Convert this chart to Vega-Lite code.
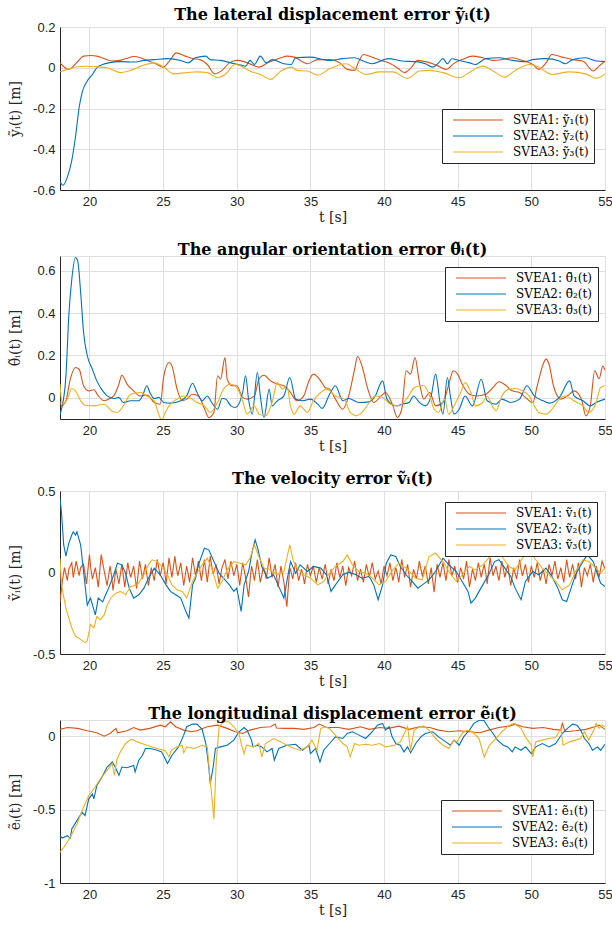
{
"$schema": "https://vega.github.io/schema/vega-lite/v6.json",
"padding": {"left": 7, "top": 6, "right": 0, "bottom": 0},
"background": "white",
"config": {
  "font": "Liberation Sans",
  "view": {"stroke": "#dedede"},
  "title": {"font": "DejaVu Serif", "fontSize": 16, "fontWeight": "bold", "color": "#000000", "offset": -2},
  "axis": {"labelFont": "Liberation Sans", "labelFontSize": 13, "labelColor": "#262626", "domainColor": "#262626", "gridColor": "#dfdfdf", "ticks": false, "titleFont": "DejaVu Serif", "titleFontSize": 14, "titleFontWeight": "normal", "titleColor": "#262626", "labelPadding": 5},
  "axisX": {"titlePadding": 2, "labelFlush": false},
  "axisY": {"titleX": -38},
  "legend": {"strokeColor": "#262626", "fillColor": "#ffffff", "padding": 5, "labelFont": "DejaVu Serif", "labelFontSize": 12, "labelColor": "#000000", "labelOffset": 54, "rowPadding": 4, "symbolStrokeWidth": 1.5, "symbolOpacity": 1},
  "concat": {"spacing": 16},
  "line": {"strokeWidth": 1.1}
},
"datasets": {
"p1": [
{"t":18,"s":1,"v":0.024},{"t":18.6,"s":1,"v":-0.008},{"t":19.2,"s":1,"v":0.03},{"t":19.6,"s":1,"v":0.057},{"t":20.1,"s":1,"v":0.06},{"t":20.5,"s":1,"v":0.057},{"t":21,"s":1,"v":0.045},{"t":21.5,"s":1,"v":0.033},{"t":22,"s":1,"v":0.035},{"t":22.5,"s":1,"v":0.045},{"t":23,"s":1,"v":0.055},{"t":23.5,"s":1,"v":0.048},{"t":24,"s":1,"v":0.033},{"t":24.5,"s":1,"v":0.02},{"t":25,"s":1,"v":0.003},{"t":25.4,"s":1,"v":0.03},{"t":25.9,"s":1,"v":0.073},{"t":26.5,"s":1,"v":0.057},{"t":27,"s":1,"v":0.045},{"t":27.5,"s":1,"v":0.04},{"t":28,"s":1,"v":0.016},{"t":28.5,"s":1,"v":-0.03},{"t":29,"s":1,"v":-0.013},{"t":29.5,"s":1,"v":0.024},{"t":30,"s":1,"v":0.036},{"t":30.5,"s":1,"v":0.03},{"t":31,"s":1,"v":0.016},{"t":31.5,"s":1,"v":0.003},{"t":32.1,"s":1,"v":0.024},{"t":33,"s":1,"v":0.049},{"t":33.4,"s":1,"v":0.057},{"t":33.9,"s":1,"v":0.052},{"t":34.8,"s":1,"v":0.02},{"t":35.5,"s":1,"v":0.04},{"t":36.3,"s":1,"v":0.04},{"t":37,"s":1,"v":0.024},{"t":37.5,"s":1,"v":-0.008},{"t":38,"s":1,"v":-0.013},{"t":38.3,"s":1,"v":0.033},{"t":38.6,"s":1,"v":0.065},{"t":39.2,"s":1,"v":0.052},{"t":39.8,"s":1,"v":0.036},{"t":40.3,"s":1,"v":0.024},{"t":40.9,"s":1,"v":0},{"t":41.4,"s":1,"v":-0.024},{"t":41.8,"s":1,"v":-0.003},{"t":42.3,"s":1,"v":0.036},{"t":42.8,"s":1,"v":0.03},{"t":43.3,"s":1,"v":0.02},{"t":43.7,"s":1,"v":0.008},{"t":44.2,"s":1,"v":-0.008},{"t":44.8,"s":1,"v":0.024},{"t":45.3,"s":1,"v":0.04},{"t":46,"s":1,"v":0.057},{"t":46.7,"s":1,"v":0.049},{"t":47.4,"s":1,"v":0.036},{"t":48,"s":1,"v":0.04},{"t":48.7,"s":1,"v":0.049},{"t":49.4,"s":1,"v":0.036},{"t":50.1,"s":1,"v":0.016},{"t":50.5,"s":1,"v":-0.008},{"t":51,"s":1,"v":0.024},{"t":51.4,"s":1,"v":0.065},{"t":52.1,"s":1,"v":0.052},{"t":52.8,"s":1,"v":0.04},{"t":53.5,"s":1,"v":0.033},{"t":54.2,"s":1,"v":-0.016},{"t":54.6,"s":1,"v":0.008},{"t":55,"s":1,"v":0.033},
{"t":18,"s":2,"v":-0.56},{"t":18.2,"s":2,"v":-0.577},{"t":18.5,"s":2,"v":-0.537},{"t":18.8,"s":2,"v":-0.455},{"t":19.05,"s":2,"v":-0.34},{"t":19.3,"s":2,"v":-0.195},{"t":19.5,"s":2,"v":-0.122},{"t":19.85,"s":2,"v":-0.065},{"t":20.2,"s":2,"v":-0.033},{"t":20.5,"s":2,"v":0},{"t":20.9,"s":2,"v":0.016},{"t":21.3,"s":2,"v":0.024},{"t":22.1,"s":2,"v":0.03},{"t":23,"s":2,"v":0.028},{"t":23.7,"s":2,"v":0.036},{"t":24.4,"s":2,"v":0.04},{"t":25.3,"s":2,"v":0.045},{"t":26.2,"s":2,"v":0.036},{"t":26.7,"s":2,"v":0.024},{"t":27.2,"s":2,"v":0.049},{"t":27.9,"s":2,"v":0.057},{"t":28.2,"s":2,"v":0.04},{"t":28.9,"s":2,"v":0.036},{"t":29.6,"s":2,"v":0.024},{"t":30.3,"s":2,"v":0.013},{"t":30.6,"s":2,"v":0.008},{"t":30.9,"s":2,"v":0.036},{"t":31.2,"s":2,"v":0.016},{"t":31.6,"s":2,"v":0.057},{"t":32,"s":2,"v":0.024},{"t":32.4,"s":2,"v":0.04},{"t":33.2,"s":2,"v":0.02},{"t":33.7,"s":2,"v":0.016},{"t":34,"s":2,"v":0.049},{"t":35,"s":2,"v":0.052},{"t":35.9,"s":2,"v":0.04},{"t":36.3,"s":2,"v":0.036},{"t":37.2,"s":2,"v":0.045},{"t":38,"s":2,"v":0.049},{"t":38.5,"s":2,"v":0.036},{"t":39.2,"s":2,"v":0.02},{"t":40,"s":2,"v":0.04},{"t":40.3,"s":2,"v":0.045},{"t":41.2,"s":2,"v":0.033},{"t":42.2,"s":2,"v":0.03},{"t":42.8,"s":2,"v":0.02},{"t":43.3,"s":2,"v":0.003},{"t":43.7,"s":2,"v":0.024},{"t":44,"s":2,"v":0.045},{"t":44.3,"s":2,"v":0.02},{"t":44.6,"s":2,"v":0.044},{"t":45.1,"s":2,"v":0.036},{"t":45.8,"s":2,"v":0.024},{"t":46.2,"s":2,"v":0.016},{"t":46.9,"s":2,"v":0.045},{"t":47.8,"s":2,"v":0.049},{"t":48.7,"s":2,"v":0.036},{"t":49.6,"s":2,"v":0.03},{"t":50.1,"s":2,"v":0.04},{"t":51,"s":2,"v":0.045},{"t":51.9,"s":2,"v":0.033},{"t":52.3,"s":2,"v":0.02},{"t":52.8,"s":2,"v":0.04},{"t":53.7,"s":2,"v":0.049},{"t":54.4,"s":2,"v":0.033},{"t":55,"s":2,"v":0.03},
{"t":18,"s":3,"v":-0.02},{"t":18.5,"s":3,"v":-0.008},{"t":19.2,"s":3,"v":0.005},{"t":19.8,"s":3,"v":0.007},{"t":20.5,"s":3,"v":0.005},{"t":21.2,"s":3,"v":0},{"t":22.1,"s":3,"v":-0.024},{"t":22.8,"s":3,"v":-0.013},{"t":23.5,"s":3,"v":0.008},{"t":24.4,"s":3,"v":0.024},{"t":25.1,"s":3,"v":0},{"t":25.7,"s":3,"v":-0.03},{"t":26.6,"s":3,"v":-0.024},{"t":27.3,"s":3,"v":-0.02},{"t":28,"s":3,"v":-0.024},{"t":28.7,"s":3,"v":-0.049},{"t":29.2,"s":3,"v":-0.033},{"t":29.9,"s":3,"v":0.016},{"t":30.3,"s":3,"v":0.008},{"t":30.9,"s":3,"v":-0.016},{"t":31.6,"s":3,"v":-0.033},{"t":32.3,"s":3,"v":-0.057},{"t":33,"s":3,"v":-0.016},{"t":33.7,"s":3,"v":0.003},{"t":34.1,"s":3,"v":-0.013},{"t":34.8,"s":3,"v":-0.016},{"t":35.5,"s":3,"v":-0.036},{"t":36.3,"s":3,"v":-0.005},{"t":37.4,"s":3,"v":0.02},{"t":38.1,"s":3,"v":-0.008},{"t":38.8,"s":3,"v":-0.033},{"t":39.7,"s":3,"v":-0.02},{"t":40.6,"s":3,"v":-0.02},{"t":41.6,"s":3,"v":-0.052},{"t":42.4,"s":3,"v":-0.016},{"t":43.1,"s":3,"v":-0.013},{"t":44,"s":3,"v":-0.024},{"t":45.1,"s":3,"v":-0.049},{"t":46,"s":3,"v":-0.013},{"t":46.7,"s":3,"v":0.008},{"t":47.4,"s":3,"v":-0.016},{"t":48.2,"s":3,"v":-0.046},{"t":48.9,"s":3,"v":-0.013},{"t":49.9,"s":3,"v":0.016},{"t":50.5,"s":3,"v":0.003},{"t":51.4,"s":3,"v":-0.033},{"t":52.6,"s":3,"v":-0.02},{"t":53.7,"s":3,"v":-0.03},{"t":54.4,"s":3,"v":-0.052},{"t":55,"s":3,"v":-0.03}
],
"p2": [
{"t":18,"s":1,"v":-0.014},{"t":18.1,"s":1,"v":-0.038},{"t":18.4,"s":1,"v":-0.014},{"t":18.7,"s":1,"v":0.088},{"t":19.05,"s":1,"v":0.143},{"t":19.3,"s":1,"v":0.135},{"t":19.6,"s":1,"v":0.057},{"t":19.95,"s":1,"v":0.033},{"t":20.3,"s":1,"v":0.038},{"t":20.6,"s":1,"v":0.009},{"t":21,"s":1,"v":-0.014},{"t":21.3,"s":1,"v":-0.006},{"t":21.65,"s":1,"v":0.009},{"t":22,"s":1,"v":0.065},{"t":22.2,"s":1,"v":0.107},{"t":22.55,"s":1,"v":0.065},{"t":23,"s":1,"v":0.033},{"t":23.45,"s":1,"v":0.009},{"t":23.9,"s":1,"v":0.013},{"t":24.4,"s":1,"v":-0.022},{"t":24.8,"s":1,"v":-0.03},{"t":25.05,"s":1,"v":0.104},{"t":25.4,"s":1,"v":0.167},{"t":25.6,"s":1,"v":0.151},{"t":25.95,"s":1,"v":0.041},{"t":26.3,"s":1,"v":-0.014},{"t":26.6,"s":1,"v":-0.006},{"t":27,"s":1,"v":0.017},{"t":27.4,"s":1,"v":0.009},{"t":27.8,"s":1,"v":-0.05},{"t":28.1,"s":1,"v":-0.093},{"t":28.45,"s":1,"v":-0.069},{"t":28.7,"s":1,"v":0.104},{"t":28.9,"s":1,"v":0.088},{"t":29.2,"s":1,"v":0.19},{"t":29.35,"s":1,"v":0.088},{"t":29.7,"s":1,"v":0.057},{"t":30,"s":1,"v":0.057},{"t":30.4,"s":1,"v":0.002},{"t":30.7,"s":1,"v":-0.006},{"t":31.2,"s":1,"v":0.009},{"t":31.5,"s":1,"v":0.088},{"t":31.85,"s":1,"v":0.107},{"t":32.3,"s":1,"v":0.08},{"t":32.75,"s":1,"v":0.065},{"t":33.2,"s":1,"v":0.057},{"t":33.65,"s":1,"v":0.025},{"t":34.1,"s":1,"v":-0.014},{"t":34.55,"s":1,"v":0.009},{"t":34.9,"s":1,"v":0.08},{"t":35.2,"s":1,"v":0.112},{"t":35.7,"s":1,"v":0.08},{"t":36,"s":1,"v":0.049},{"t":36.3,"s":1,"v":0.041},{"t":36.7,"s":1,"v":-0.006},{"t":37.2,"s":1,"v":-0.054},{"t":37.6,"s":1,"v":0.009},{"t":38,"s":1,"v":0.135},{"t":38.2,"s":1,"v":0.195},{"t":38.5,"s":1,"v":0.151},{"t":38.9,"s":1,"v":0.041},{"t":39.3,"s":1,"v":-0.022},{"t":39.8,"s":1,"v":0.009},{"t":40.1,"s":1,"v":0.025},{"t":40.6,"s":1,"v":-0.038},{"t":40.9,"s":1,"v":-0.093},{"t":41.2,"s":1,"v":-0.054},{"t":41.5,"s":1,"v":0.128},{"t":41.8,"s":1,"v":0.112},{"t":42.1,"s":1,"v":0.19},{"t":42.4,"s":1,"v":0.072},{"t":42.7,"s":1,"v":-0.006},{"t":43.1,"s":1,"v":0.025},{"t":43.5,"s":1,"v":-0.038},{"t":44,"s":1,"v":-0.022},{"t":44.4,"s":1,"v":0.065},{"t":44.7,"s":1,"v":0.128},{"t":45,"s":1,"v":0.112},{"t":45.3,"s":1,"v":0.065},{"t":45.8,"s":1,"v":0.017},{"t":46.3,"s":1,"v":0.009},{"t":46.9,"s":1,"v":0.017},{"t":47.4,"s":1,"v":0.049},{"t":47.8,"s":1,"v":0.076},{"t":48.3,"s":1,"v":0.057},{"t":48.7,"s":1,"v":0.033},{"t":49.2,"s":1,"v":0.025},{"t":49.6,"s":1,"v":0.002},{"t":50.1,"s":1,"v":-0.022},{"t":50.4,"s":1,"v":0.057},{"t":50.8,"s":1,"v":0.159},{"t":51,"s":1,"v":0.183},{"t":51.2,"s":1,"v":0.159},{"t":51.5,"s":1,"v":0.057},{"t":52,"s":1,"v":-0.006},{"t":52.45,"s":1,"v":0.009},{"t":52.9,"s":1,"v":0.033},{"t":53.4,"s":1,"v":-0.006},{"t":53.7,"s":1,"v":-0.085},{"t":54,"s":1,"v":-0.038},{"t":54.3,"s":1,"v":0.128},{"t":54.6,"s":1,"v":0.09},{"t":54.85,"s":1,"v":0.15},{"t":55,"s":1,"v":0.13},
{"t":18,"s":2,"v":-0.077},{"t":18.1,"s":2,"v":-0.054},{"t":18.4,"s":2,"v":0.1},{"t":18.6,"s":2,"v":0.39},{"t":18.8,"s":2,"v":0.56},{"t":19.05,"s":2,"v":0.663},{"t":19.2,"s":2,"v":0.647},{"t":19.4,"s":2,"v":0.5},{"t":19.6,"s":2,"v":0.31},{"t":19.85,"s":2,"v":0.2},{"t":20.2,"s":2,"v":0.135},{"t":20.5,"s":2,"v":0.08},{"t":20.9,"s":2,"v":0.033},{"t":21.2,"s":2,"v":0.009},{"t":21.65,"s":2,"v":-0.003},{"t":22,"s":2,"v":0.002},{"t":22.3,"s":2,"v":-0.022},{"t":22.8,"s":2,"v":-0.014},{"t":23.35,"s":2,"v":-0.014},{"t":23.6,"s":2,"v":0.009},{"t":23.9,"s":2,"v":0.057},{"t":24.1,"s":2,"v":0.025},{"t":24.4,"s":2,"v":-0.003},{"t":24.7,"s":2,"v":0.002},{"t":25.05,"s":2,"v":-0.022},{"t":25.5,"s":2,"v":-0.025},{"t":26.2,"s":2,"v":-0.014},{"t":26.6,"s":2,"v":0.009},{"t":27,"s":2,"v":0.069},{"t":27.3,"s":2,"v":0.025},{"t":27.65,"s":2,"v":-0.014},{"t":28,"s":2,"v":0.009},{"t":28.3,"s":2,"v":-0.022},{"t":28.7,"s":2,"v":-0.054},{"t":29,"s":2,"v":-0.003},{"t":29.25,"s":2,"v":-0.006},{"t":29.6,"s":2,"v":-0.038},{"t":29.9,"s":2,"v":-0.046},{"t":30.4,"s":2,"v":0.025},{"t":30.6,"s":2,"v":0.104},{"t":30.8,"s":2,"v":-0.006},{"t":31.05,"s":2,"v":-0.077},{"t":31.4,"s":2,"v":0.12},{"t":31.6,"s":2,"v":0.009},{"t":31.85,"s":2,"v":-0.093},{"t":32.2,"s":2,"v":0.041},{"t":32.4,"s":2,"v":-0.038},{"t":32.75,"s":2,"v":-0.014},{"t":33.2,"s":2,"v":0.009},{"t":33.6,"s":2,"v":0.096},{"t":34,"s":2,"v":-0.006},{"t":34.45,"s":2,"v":-0.014},{"t":35,"s":2,"v":-0.006},{"t":35.5,"s":2,"v":-0.03},{"t":35.8,"s":2,"v":-0.05},{"t":36.3,"s":2,"v":0.017},{"t":36.7,"s":2,"v":0.057},{"t":37.2,"s":2,"v":-0.014},{"t":37.6,"s":2,"v":-0.003},{"t":38.3,"s":2,"v":-0.022},{"t":39,"s":2,"v":-0.019},{"t":39.4,"s":2,"v":0.009},{"t":39.9,"s":2,"v":0.08},{"t":40.2,"s":2,"v":-0.006},{"t":40.8,"s":2,"v":-0.038},{"t":41.2,"s":2,"v":-0.03},{"t":41.7,"s":2,"v":-0.022},{"t":42,"s":2,"v":0.009},{"t":42.4,"s":2,"v":-0.022},{"t":42.8,"s":2,"v":-0.038},{"t":43.2,"s":2,"v":0.009},{"t":43.5,"s":2,"v":0.112},{"t":43.8,"s":2,"v":-0.022},{"t":44,"s":2,"v":-0.077},{"t":44.3,"s":2,"v":0.096},{"t":44.5,"s":2,"v":0.009},{"t":44.75,"s":2,"v":-0.077},{"t":45.1,"s":2,"v":-0.054},{"t":45.5,"s":2,"v":0.009},{"t":46,"s":2,"v":-0.038},{"t":46.6,"s":2,"v":0.088},{"t":47,"s":2,"v":-0.014},{"t":47.6,"s":2,"v":-0.03},{"t":48,"s":2,"v":-0.006},{"t":48.6,"s":2,"v":-0.022},{"t":49.2,"s":2,"v":-0.006},{"t":49.7,"s":2,"v":0.057},{"t":50.2,"s":2,"v":0.009},{"t":50.8,"s":2,"v":-0.014},{"t":51.2,"s":2,"v":-0.025},{"t":51.9,"s":2,"v":0.002},{"t":52.6,"s":2,"v":0.08},{"t":52.9,"s":2,"v":0.009},{"t":53.5,"s":2,"v":-0.014},{"t":54,"s":2,"v":-0.038},{"t":54.4,"s":2,"v":-0.022},{"t":55,"s":2,"v":-0.006},
{"t":18,"s":3,"v":0.065},{"t":18.15,"s":3,"v":-0.03},{"t":18.5,"s":3,"v":-0.006},{"t":18.8,"s":3,"v":0.044},{"t":19.05,"s":3,"v":0.033},{"t":19.4,"s":3,"v":-0.014},{"t":19.7,"s":3,"v":-0.035},{"t":20.3,"s":3,"v":-0.038},{"t":21,"s":3,"v":-0.03},{"t":21.5,"s":3,"v":-0.061},{"t":21.9,"s":3,"v":-0.069},{"t":22.3,"s":3,"v":-0.038},{"t":22.8,"s":3,"v":0.017},{"t":23.45,"s":3,"v":0.025},{"t":23.9,"s":3,"v":0.009},{"t":24.4,"s":3,"v":-0.014},{"t":24.7,"s":3,"v":-0.077},{"t":24.9,"s":3,"v":-0.104},{"t":25.15,"s":3,"v":-0.069},{"t":25.5,"s":3,"v":-0.03},{"t":25.95,"s":3,"v":-0.006},{"t":26.4,"s":3,"v":0.009},{"t":26.9,"s":3,"v":-0.003},{"t":27.3,"s":3,"v":-0.022},{"t":27.8,"s":3,"v":-0.038},{"t":28.2,"s":3,"v":-0.069},{"t":28.7,"s":3,"v":-0.022},{"t":29.1,"s":3,"v":0.041},{"t":29.6,"s":3,"v":0.065},{"t":30,"s":3,"v":0.049},{"t":30.4,"s":3,"v":-0.014},{"t":30.7,"s":3,"v":-0.077},{"t":31.2,"s":3,"v":-0.038},{"t":31.5,"s":3,"v":-0.077},{"t":31.95,"s":3,"v":-0.085},{"t":32.4,"s":3,"v":-0.022},{"t":32.75,"s":3,"v":0.072},{"t":33.1,"s":3,"v":0.041},{"t":33.4,"s":3,"v":0.057},{"t":33.65,"s":3,"v":-0.038},{"t":33.9,"s":3,"v":-0.077},{"t":34.3,"s":3,"v":-0.038},{"t":34.8,"s":3,"v":-0.069},{"t":35.2,"s":3,"v":-0.014},{"t":35.7,"s":3,"v":0.025},{"t":36.1,"s":3,"v":0.041},{"t":36.7,"s":3,"v":0.009},{"t":37.3,"s":3,"v":-0.006},{"t":37.7,"s":3,"v":-0.069},{"t":38.1,"s":3,"v":-0.085},{"t":38.5,"s":3,"v":-0.069},{"t":39,"s":3,"v":-0.022},{"t":39.4,"s":3,"v":0.009},{"t":39.9,"s":3,"v":0.002},{"t":40.45,"s":3,"v":-0.03},{"t":41,"s":3,"v":-0.038},{"t":41.6,"s":3,"v":0.002},{"t":42,"s":3,"v":0.044},{"t":42.4,"s":3,"v":0.057},{"t":42.7,"s":3,"v":0.057},{"t":43.1,"s":3,"v":0.009},{"t":43.4,"s":3,"v":-0.054},{"t":43.7,"s":3,"v":-0.069},{"t":44.1,"s":3,"v":-0.006},{"t":44.4,"s":3,"v":-0.077},{"t":44.75,"s":3,"v":-0.038},{"t":45.2,"s":3,"v":0.025},{"t":45.5,"s":3,"v":0.072},{"t":45.9,"s":3,"v":0.025},{"t":46.2,"s":3,"v":-0.038},{"t":46.7,"s":3,"v":-0.022},{"t":47,"s":3,"v":0.009},{"t":47.4,"s":3,"v":-0.046},{"t":47.6,"s":3,"v":-0.061},{"t":48,"s":3,"v":0.009},{"t":48.5,"s":3,"v":0.041},{"t":48.9,"s":3,"v":0.044},{"t":49.4,"s":3,"v":0.033},{"t":49.85,"s":3,"v":0.009},{"t":50.2,"s":3,"v":-0.038},{"t":50.5,"s":3,"v":-0.069},{"t":51,"s":3,"v":-0.077},{"t":51.4,"s":3,"v":-0.054},{"t":51.9,"s":3,"v":-0.006},{"t":52.3,"s":3,"v":0.009},{"t":52.9,"s":3,"v":-0.014},{"t":53.5,"s":3,"v":-0.038},{"t":53.9,"s":3,"v":-0.069},{"t":54.4,"s":3,"v":-0.022},{"t":54.7,"s":3,"v":0.049},{"t":55,"s":3,"v":0.057}
],
"p3": [
{"t":18,"s":1,"v":-0.18},{"t":18.15,"s":1,"v":-0.06},{"t":18.3,"s":1,"v":0.03},{"t":18.5,"s":1,"v":-0.05},{"t":18.6,"s":1,"v":0.02},{"t":18.8,"s":1,"v":0.06},{"t":18.9,"s":1,"v":-0.03},{"t":19.1,"s":1,"v":0.07},{"t":19.3,"s":1,"v":-0.02},{"t":19.4,"s":1,"v":0.03},{"t":19.6,"s":1,"v":0.05},{"t":19.8,"s":1,"v":-0.07},{"t":20,"s":1,"v":0.11},{"t":20.1,"s":1,"v":0.02},{"t":20.2,"s":1,"v":-0.04},{"t":20.4,"s":1,"v":0.03},{"t":20.6,"s":1,"v":-0.09},{"t":20.8,"s":1,"v":0.11},{"t":20.9,"s":1,"v":0.06},{"t":21,"s":1,"v":0.01},{"t":21.2,"s":1,"v":-0.08},{"t":21.4,"s":1,"v":0.04},{"t":21.5,"s":1,"v":-0.02},{"t":21.6,"s":1,"v":-0.11},{"t":21.8,"s":1,"v":0.02},{"t":22,"s":1,"v":-0.07},{"t":22.1,"s":1,"v":-0.01},{"t":22.2,"s":1,"v":0.05},{"t":22.4,"s":1,"v":-0.09},{"t":22.6,"s":1,"v":0.06},{"t":22.7,"s":1,"v":0.01},{"t":22.8,"s":1,"v":-0.03},{"t":23,"s":1,"v":0.04},{"t":23.2,"s":1,"v":-0.1},{"t":23.4,"s":1,"v":0.07},{"t":23.5,"s":1,"v":0.02},{"t":23.6,"s":1,"v":-0.04},{"t":23.8,"s":1,"v":0.05},{"t":24,"s":1,"v":-0.08},{"t":24.2,"s":1,"v":0.03},{"t":24.3,"s":1,"v":-0.01},{"t":24.4,"s":1,"v":-0.05},{"t":24.6,"s":1,"v":0.08},{"t":24.8,"s":1,"v":-0.02},{"t":25,"s":1,"v":0.06},{"t":25.1,"s":1,"v":0.01},{"t":25.2,"s":1,"v":-0.07},{"t":25.4,"s":1,"v":0.09},{"t":25.6,"s":1,"v":-0.03},{"t":25.8,"s":1,"v":0.1},{"t":25.9,"s":1,"v":0.03},{"t":26,"s":1,"v":-0.02},{"t":26.2,"s":1,"v":0.06},{"t":26.4,"s":1,"v":-0.08},{"t":26.6,"s":1,"v":0.04},{"t":26.7,"s":1,"v":-0.01},{"t":26.8,"s":1,"v":-0.06},{"t":27,"s":1,"v":0.09},{"t":27.2,"s":1,"v":-0.02},{"t":27.4,"s":1,"v":0.07},{"t":27.5,"s":1,"v":0.01},{"t":27.6,"s":1,"v":-0.05},{"t":27.8,"s":1,"v":0.08},{"t":28,"s":1,"v":-0.06},{"t":28.2,"s":1,"v":0.1},{"t":28.3,"s":1,"v":0.04},{"t":28.4,"s":1,"v":-0.01},{"t":28.6,"s":1,"v":0.05},{"t":28.8,"s":1,"v":-0.07},{"t":29,"s":1,"v":0.03},{"t":29.2,"s":1,"v":0.08},{"t":29.3,"s":1,"v":0.02},{"t":29.4,"s":1,"v":-0.04},{"t":29.6,"s":1,"v":0.07},{"t":29.8,"s":1,"v":-0.02},{"t":30,"s":1,"v":0.05},{"t":30.1,"s":1,"v":-0.01},{"t":30.2,"s":1,"v":-0.08},{"t":30.4,"s":1,"v":0.06},{"t":30.6,"s":1,"v":-0.03},{"t":30.8,"s":1,"v":-0.15},{"t":31,"s":1,"v":0.04},{"t":31.1,"s":1,"v":0},{"t":31.2,"s":1,"v":-0.05},{"t":31.4,"s":1,"v":0.08},{"t":31.6,"s":1,"v":-0.06},{"t":31.8,"s":1,"v":0.03},{"t":31.9,"s":1,"v":0.01},{"t":32,"s":1,"v":-0.04},{"t":32.2,"s":1,"v":0.09},{"t":32.4,"s":1,"v":-0.03},{"t":32.6,"s":1,"v":0.05},{"t":32.7,"s":1,"v":-0.02},{"t":32.8,"s":1,"v":-0.09},{"t":33,"s":1,"v":0.04},{"t":33.2,"s":1,"v":-0.06},{"t":33.4,"s":1,"v":-0.21},{"t":33.6,"s":1,"v":0.03},{"t":33.7,"s":1,"v":0},{"t":33.8,"s":1,"v":-0.04},{"t":34,"s":1,"v":0.06},{"t":34.2,"s":1,"v":-0.05},{"t":34.4,"s":1,"v":0.02},{"t":34.5,"s":1,"v":-0.02},{"t":34.6,"s":1,"v":-0.07},{"t":34.8,"s":1,"v":0.05},{"t":35,"s":1,"v":-0.02},{"t":35.2,"s":1,"v":0.04},{"t":35.3,"s":1,"v":-0.01},{"t":35.4,"s":1,"v":-0.06},{"t":35.6,"s":1,"v":0.03},{"t":35.8,"s":1,"v":-0.04},{"t":36,"s":1,"v":0.05},{"t":36.1,"s":1,"v":0},{"t":36.2,"s":1,"v":-0.07},{"t":36.4,"s":1,"v":0.02},{"t":36.6,"s":1,"v":-0.05},{"t":36.8,"s":1,"v":0.06},{"t":36.9,"s":1,"v":0.01},{"t":37,"s":1,"v":-0.03},{"t":37.2,"s":1,"v":0.04},{"t":37.4,"s":1,"v":-0.08},{"t":37.6,"s":1,"v":0.03},{"t":37.8,"s":1,"v":-0.02},{"t":38,"s":1,"v":0.07},{"t":38.1,"s":1,"v":0.01},{"t":38.2,"s":1,"v":-0.05},{"t":38.4,"s":1,"v":0.02},{"t":38.6,"s":1,"v":-0.06},{"t":38.8,"s":1,"v":0.05},{"t":38.9,"s":1,"v":0.01},{"t":39,"s":1,"v":-0.03},{"t":39.2,"s":1,"v":0.06},{"t":39.4,"s":1,"v":-0.04},{"t":39.6,"s":1,"v":0.01},{"t":39.8,"s":1,"v":-0.07},{"t":40,"s":1,"v":0.04},{"t":40.1,"s":1,"v":0.01},{"t":40.2,"s":1,"v":-0.02},{"t":40.4,"s":1,"v":0.06},{"t":40.6,"s":1,"v":-0.05},{"t":40.8,"s":1,"v":0.03},{"t":40.9,"s":1,"v":-0.01},{"t":41,"s":1,"v":-0.06},{"t":41.2,"s":1,"v":0.08},{"t":41.4,"s":1,"v":-0.03},{"t":41.6,"s":1,"v":0.05},{"t":41.7,"s":1,"v":-0.02},{"t":41.8,"s":1,"v":-0.09},{"t":42,"s":1,"v":0.02},{"t":42.2,"s":1,"v":-0.04},{"t":42.4,"s":1,"v":0.07},{"t":42.5,"s":1,"v":0.02},{"t":42.6,"s":1,"v":-0.02},{"t":42.8,"s":1,"v":0.04},{"t":43,"s":1,"v":-0.07},{"t":43.2,"s":1,"v":0.03},{"t":43.4,"s":1,"v":-0.12},{"t":43.6,"s":1,"v":0.05},{"t":43.7,"s":1,"v":0.01},{"t":43.8,"s":1,"v":-0.03},{"t":44,"s":1,"v":0.06},{"t":44.2,"s":1,"v":-0.05},{"t":44.4,"s":1,"v":0.08},{"t":44.5,"s":1,"v":0.03},{"t":44.6,"s":1,"v":-0.02},{"t":44.8,"s":1,"v":0.04},{"t":45,"s":1,"v":-0.06},{"t":45.2,"s":1,"v":0.03},{"t":45.3,"s":1,"v":0},{"t":45.4,"s":1,"v":-0.04},{"t":45.6,"s":1,"v":0.07},{"t":45.8,"s":1,"v":-0.09},{"t":46,"s":1,"v":0.02},{"t":46.1,"s":1,"v":-0.01},{"t":46.2,"s":1,"v":-0.05},{"t":46.4,"s":1,"v":0.06},{"t":46.6,"s":1,"v":-0.03},{"t":46.8,"s":1,"v":0.05},{"t":46.9,"s":1,"v":0},{"t":47,"s":1,"v":-0.07},{"t":47.2,"s":1,"v":0.09},{"t":47.4,"s":1,"v":-0.02},{"t":47.6,"s":1,"v":0.04},{"t":47.7,"s":1,"v":-0.01},{"t":47.8,"s":1,"v":-0.05},{"t":48,"s":1,"v":0.07},{"t":48.2,"s":1,"v":-0.03},{"t":48.4,"s":1,"v":0.05},{"t":48.5,"s":1,"v":-0.02},{"t":48.6,"s":1,"v":-0.08},{"t":48.8,"s":1,"v":0.03},{"t":49,"s":1,"v":-0.04},{"t":49.2,"s":1,"v":0.08},{"t":49.3,"s":1,"v":0.02},{"t":49.4,"s":1,"v":-0.02},{"t":49.6,"s":1,"v":0.05},{"t":49.8,"s":1,"v":-0.06},{"t":50,"s":1,"v":0.04},{"t":50.1,"s":1,"v":0},{"t":50.2,"s":1,"v":-0.03},{"t":50.4,"s":1,"v":0.06},{"t":50.6,"s":1,"v":-0.05},{"t":50.8,"s":1,"v":0.02},{"t":50.9,"s":1,"v":-0.02},{"t":51,"s":1,"v":-0.07},{"t":51.2,"s":1,"v":0.05},{"t":51.4,"s":1,"v":-0.02},{"t":51.6,"s":1,"v":0.07},{"t":51.7,"s":1,"v":0.01},{"t":51.8,"s":1,"v":-0.04},{"t":52,"s":1,"v":0.03},{"t":52.2,"s":1,"v":-0.06},{"t":52.4,"s":1,"v":0.08},{"t":52.5,"s":1,"v":0.02},{"t":52.6,"s":1,"v":-0.03},{"t":52.8,"s":1,"v":0.05},{"t":53,"s":1,"v":-0.04},{"t":53.2,"s":1,"v":0.06},{"t":53.3,"s":1,"v":-0.01},{"t":53.4,"s":1,"v":-0.09},{"t":53.6,"s":1,"v":0.03},{"t":53.8,"s":1,"v":-0.02},{"t":54,"s":1,"v":0.05},{"t":54.1,"s":1,"v":0},{"t":54.2,"s":1,"v":-0.06},{"t":54.4,"s":1,"v":0.04},{"t":54.6,"s":1,"v":-0.03},{"t":54.8,"s":1,"v":0.07},{"t":55,"s":1,"v":0.02},
{"t":18,"s":2,"v":0.455},{"t":18.1,"s":2,"v":0.37},{"t":18.25,"s":2,"v":0.17},{"t":18.4,"s":2,"v":0.1},{"t":18.6,"s":2,"v":0.18},{"t":18.8,"s":2,"v":0.23},{"t":18.9,"s":2,"v":0.25},{"t":19.05,"s":2,"v":0.23},{"t":19.15,"s":2,"v":0.25},{"t":19.4,"s":2,"v":0.17},{"t":19.6,"s":2,"v":0.006},{"t":19.85,"s":2,"v":-0.2},{"t":20.07,"s":2,"v":-0.157},{"t":20.4,"s":2,"v":-0.26},{"t":20.6,"s":2,"v":-0.157},{"t":20.9,"s":2,"v":-0.18},{"t":21.1,"s":2,"v":-0.137},{"t":21.3,"s":2,"v":-0.096},{"t":21.65,"s":2,"v":-0.014},{"t":21.9,"s":2,"v":0.057},{"t":22.2,"s":2,"v":0.047},{"t":22.45,"s":2,"v":-0.004},{"t":22.7,"s":2,"v":-0.096},{"t":23,"s":2,"v":-0.157},{"t":23.35,"s":2,"v":-0.137},{"t":23.7,"s":2,"v":-0.096},{"t":24,"s":2,"v":-0.035},{"t":24.4,"s":2,"v":0.027},{"t":24.8,"s":2,"v":-0.014},{"t":25.2,"s":2,"v":-0.076},{"t":25.5,"s":2,"v":-0.116},{"t":25.85,"s":2,"v":-0.137},{"t":26.2,"s":2,"v":-0.157},{"t":26.5,"s":2,"v":-0.229},{"t":26.75,"s":2,"v":-0.28},{"t":27,"s":2,"v":-0.076},{"t":27.2,"s":2,"v":-0.035},{"t":27.4,"s":2,"v":0.047},{"t":27.8,"s":2,"v":0.149},{"t":28.1,"s":2,"v":0.139},{"t":28.45,"s":2,"v":0.067},{"t":28.8,"s":2,"v":-0.004},{"t":29.1,"s":2,"v":-0.035},{"t":29.5,"s":2,"v":-0.076},{"t":29.8,"s":2,"v":-0.116},{"t":30,"s":2,"v":-0.096},{"t":30.3,"s":2,"v":-0.239},{"t":30.5,"s":2,"v":-0.076},{"t":30.8,"s":2,"v":0.006},{"t":31.05,"s":2,"v":0.129},{"t":31.25,"s":2,"v":0.2},{"t":31.45,"s":2,"v":0.139},{"t":31.7,"s":2,"v":0.037},{"t":32.1,"s":2,"v":-0.035},{"t":32.5,"s":2,"v":-0.014},{"t":32.9,"s":2,"v":-0.096},{"t":33.2,"s":2,"v":-0.157},{"t":33.4,"s":2,"v":-0.055},{"t":33.65,"s":2,"v":0.067},{"t":34,"s":2,"v":-0.004},{"t":34.3,"s":2,"v":0.047},{"t":34.8,"s":2,"v":0.006},{"t":35.2,"s":2,"v":0.037},{"t":35.7,"s":2,"v":0.027},{"t":36.1,"s":2,"v":-0.014},{"t":36.4,"s":2,"v":-0.116},{"t":36.7,"s":2,"v":-0.076},{"t":37.2,"s":2,"v":-0.014},{"t":37.6,"s":2,"v":0.002},{"t":38.1,"s":2,"v":-0.014},{"t":38.5,"s":2,"v":-0.035},{"t":39,"s":2,"v":-0.024},{"t":39.3,"s":2,"v":-0.076},{"t":39.6,"s":2,"v":-0.167},{"t":39.9,"s":2,"v":-0.076},{"t":40.15,"s":2,"v":0.057},{"t":40.45,"s":2,"v":0.108},{"t":40.8,"s":2,"v":0.098},{"t":41.1,"s":2,"v":0.037},{"t":41.5,"s":2,"v":-0.014},{"t":41.9,"s":2,"v":-0.055},{"t":42.3,"s":2,"v":-0.096},{"t":42.6,"s":2,"v":-0.076},{"t":43.05,"s":2,"v":-0.045},{"t":43.5,"s":2,"v":0.006},{"t":44,"s":2,"v":0.088},{"t":44.4,"s":2,"v":0.047},{"t":44.9,"s":2,"v":0.006},{"t":45.3,"s":2,"v":-0.055},{"t":45.7,"s":2,"v":-0.116},{"t":45.9,"s":2,"v":-0.188},{"t":46.2,"s":2,"v":-0.157},{"t":46.7,"s":2,"v":-0.076},{"t":47.1,"s":2,"v":-0.014},{"t":47.5,"s":2,"v":0.067},{"t":47.8,"s":2,"v":0.078},{"t":48.2,"s":2,"v":0.027},{"t":48.6,"s":2,"v":-0.024},{"t":48.9,"s":2,"v":-0.096},{"t":49.3,"s":2,"v":-0.167},{"t":49.6,"s":2,"v":-0.055},{"t":50.1,"s":2,"v":0.006},{"t":50.5,"s":2,"v":-0.014},{"t":51,"s":2,"v":0.027},{"t":51.4,"s":2,"v":-0.024},{"t":51.8,"s":2,"v":-0.096},{"t":52.1,"s":2,"v":-0.167},{"t":52.4,"s":2,"v":-0.178},{"t":52.7,"s":2,"v":-0.096},{"t":53,"s":2,"v":-0.014},{"t":53.5,"s":2,"v":0.067},{"t":53.8,"s":2,"v":0.108},{"t":54.2,"s":2,"v":0.067},{"t":54.5,"s":2,"v":-0.014},{"t":54.7,"s":2,"v":-0.065},{"t":55,"s":2,"v":-0.086},
{"t":18,"s":3,"v":0.088},{"t":18.1,"s":3,"v":-0.076},{"t":18.4,"s":3,"v":-0.218},{"t":18.6,"s":3,"v":-0.28},{"t":18.8,"s":3,"v":-0.34},{"t":19.05,"s":3,"v":-0.39},{"t":19.4,"s":3,"v":-0.41},{"t":19.7,"s":3,"v":-0.43},{"t":19.85,"s":3,"v":-0.42},{"t":20.07,"s":3,"v":-0.32},{"t":20.3,"s":3,"v":-0.34},{"t":20.5,"s":3,"v":-0.27},{"t":20.75,"s":3,"v":-0.29},{"t":21,"s":3,"v":-0.26},{"t":21.2,"s":3,"v":-0.2},{"t":21.45,"s":3,"v":-0.157},{"t":21.8,"s":3,"v":-0.127},{"t":22.1,"s":3,"v":-0.116},{"t":22.45,"s":3,"v":-0.137},{"t":22.8,"s":3,"v":-0.086},{"t":23.25,"s":3,"v":-0.076},{"t":23.7,"s":3,"v":-0.014},{"t":24,"s":3,"v":0.047},{"t":24.25,"s":3,"v":0.078},{"t":24.6,"s":3,"v":0.067},{"t":24.9,"s":3,"v":0.037},{"t":25.3,"s":3,"v":-0.014},{"t":25.6,"s":3,"v":-0.076},{"t":25.95,"s":3,"v":-0.106},{"t":26.3,"s":3,"v":-0.116},{"t":26.6,"s":3,"v":-0.157},{"t":27,"s":3,"v":-0.055},{"t":27.3,"s":3,"v":-0.004},{"t":27.65,"s":3,"v":0.047},{"t":28,"s":3,"v":0.088},{"t":28.3,"s":3,"v":0.027},{"t":28.7,"s":3,"v":-0.096},{"t":29,"s":3,"v":-0.055},{"t":29.35,"s":3,"v":0.016},{"t":29.8,"s":3,"v":0.067},{"t":30.25,"s":3,"v":0.057},{"t":30.6,"s":3,"v":0.047},{"t":30.9,"s":3,"v":0.088},{"t":31.2,"s":3,"v":0.17},{"t":31.5,"s":3,"v":0.098},{"t":31.85,"s":3,"v":0.027},{"t":32.3,"s":3,"v":0.016},{"t":32.75,"s":3,"v":-0.014},{"t":33.2,"s":3,"v":0.006},{"t":33.45,"s":3,"v":0.108},{"t":33.6,"s":3,"v":0.17},{"t":33.85,"s":3,"v":0.067},{"t":34.1,"s":3,"v":0.027},{"t":34.55,"s":3,"v":-0.014},{"t":35,"s":3,"v":-0.035},{"t":35.5,"s":3,"v":-0.076},{"t":35.9,"s":3,"v":-0.055},{"t":36.3,"s":3,"v":-0.004},{"t":36.7,"s":3,"v":0.037},{"t":37.2,"s":3,"v":0.067},{"t":37.5,"s":3,"v":0.108},{"t":37.85,"s":3,"v":0.047},{"t":38.3,"s":3,"v":0.006},{"t":38.75,"s":3,"v":-0.004},{"t":39.2,"s":3,"v":-0.035},{"t":39.65,"s":3,"v":-0.076},{"t":40.1,"s":3,"v":-0.055},{"t":40.6,"s":3,"v":0.016},{"t":41,"s":3,"v":0.057},{"t":41.5,"s":3,"v":0.027},{"t":42.15,"s":3,"v":-0.035},{"t":42.6,"s":3,"v":-0.045},{"t":43.05,"s":3,"v":0.098},{"t":43.5,"s":3,"v":0.118},{"t":44,"s":3,"v":0.067},{"t":44.4,"s":3,"v":0.006},{"t":44.9,"s":3,"v":-0.055},{"t":45.3,"s":3,"v":-0.014},{"t":45.8,"s":3,"v":0.037},{"t":46.2,"s":3,"v":0.016},{"t":46.7,"s":3,"v":0.047},{"t":47.1,"s":3,"v":0.088},{"t":47.6,"s":3,"v":0.139},{"t":48,"s":3,"v":0.098},{"t":48.5,"s":3,"v":0.037},{"t":48.9,"s":3,"v":0.016},{"t":49.4,"s":3,"v":0.088},{"t":49.85,"s":3,"v":0.139},{"t":50.3,"s":3,"v":0.078},{"t":50.75,"s":3,"v":0.027},{"t":51.2,"s":3,"v":-0.014},{"t":51.65,"s":3,"v":-0.055},{"t":52.1,"s":3,"v":-0.106},{"t":52.6,"s":3,"v":-0.076},{"t":53,"s":3,"v":0.006},{"t":53.5,"s":3,"v":0.078},{"t":53.9,"s":3,"v":0.067},{"t":54.4,"s":3,"v":0.027},{"t":54.7,"s":3,"v":-0.004},{"t":55,"s":3,"v":0.027}
],
"p4": [
{"t":18,"s":1,"v":0.046},{"t":18.5,"s":1,"v":0.059},{"t":19.2,"s":1,"v":0.053},{"t":19.85,"s":1,"v":0.037},{"t":20.5,"s":1,"v":0.023},{"t":21,"s":1,"v":0},{"t":21.4,"s":1,"v":0.018},{"t":21.8,"s":1,"v":0.053},{"t":21.9,"s":1,"v":0.023},{"t":22.55,"s":1,"v":0.037},{"t":23,"s":1,"v":0.059},{"t":23.45,"s":1,"v":0.041},{"t":24.1,"s":1,"v":0.053},{"t":24.8,"s":1,"v":0.075},{"t":25.15,"s":1,"v":0.064},{"t":25.5,"s":1,"v":0.098},{"t":25.85,"s":1,"v":0.064},{"t":26.4,"s":1,"v":0.041},{"t":26.9,"s":1,"v":0.03},{"t":27.3,"s":1,"v":0.037},{"t":28,"s":1,"v":0.064},{"t":28.7,"s":1,"v":0.075},{"t":29.35,"s":1,"v":0.053},{"t":29.9,"s":1,"v":0.03},{"t":30.4,"s":1,"v":0.018},{"t":30.9,"s":1,"v":0.041},{"t":31.6,"s":1,"v":0.059},{"t":32.3,"s":1,"v":0.064},{"t":32.6,"s":1,"v":0.082},{"t":32.7,"s":1,"v":0.055},{"t":33.2,"s":1,"v":0.053},{"t":33.9,"s":1,"v":0.053},{"t":34.55,"s":1,"v":0.046},{"t":35.25,"s":1,"v":0.059},{"t":35.6,"s":1,"v":0.082},{"t":36.1,"s":1,"v":0.059},{"t":36.9,"s":1,"v":0.059},{"t":37.6,"s":1,"v":0.046},{"t":38.4,"s":1,"v":0.064},{"t":39,"s":1,"v":0.046},{"t":39.7,"s":1,"v":0.059},{"t":40.3,"s":1,"v":0.053},{"t":41,"s":1,"v":0.068},{"t":41.7,"s":1,"v":0.046},{"t":42.4,"s":1,"v":0.064},{"t":43.1,"s":1,"v":0.059},{"t":43.7,"s":1,"v":0.041},{"t":44.4,"s":1,"v":0.03},{"t":45.1,"s":1,"v":0.037},{"t":45.8,"s":1,"v":0.03},{"t":46.5,"s":1,"v":0.023},{"t":47.1,"s":1,"v":0.041},{"t":47.8,"s":1,"v":0.059},{"t":48.5,"s":1,"v":0.068},{"t":48.9,"s":1,"v":0.082},{"t":49.4,"s":1,"v":0.064},{"t":50.1,"s":1,"v":0.053},{"t":50.8,"s":1,"v":0.059},{"t":51.5,"s":1,"v":0.046},{"t":52,"s":1,"v":0.041},{"t":52.1,"s":1,"v":0.087},{"t":52.3,"s":1,"v":0.03},{"t":53,"s":1,"v":0.037},{"t":53.7,"s":1,"v":0.046},{"t":54.3,"s":1,"v":0.064},{"t":54.6,"s":1,"v":0.075},{"t":55,"s":1,"v":0.046},
{"t":18,"s":2,"v":-0.678},{"t":18.15,"s":2,"v":-0.694},{"t":18.5,"s":2,"v":-0.678},{"t":18.7,"s":2,"v":-0.694},{"t":18.8,"s":2,"v":-0.632},{"t":19.15,"s":2,"v":-0.575},{"t":19.5,"s":2,"v":-0.518},{"t":19.7,"s":2,"v":-0.541},{"t":19.95,"s":2,"v":-0.427},{"t":20.2,"s":2,"v":-0.393},{"t":20.3,"s":2,"v":-0.427},{"t":20.5,"s":2,"v":-0.336},{"t":20.85,"s":2,"v":-0.279},{"t":21.2,"s":2,"v":-0.21},{"t":21.55,"s":2,"v":-0.176},{"t":21.75,"s":2,"v":-0.21},{"t":22,"s":2,"v":-0.267},{"t":22.2,"s":2,"v":-0.21},{"t":22.55,"s":2,"v":-0.215},{"t":23,"s":2,"v":-0.199},{"t":23.1,"s":2,"v":-0.244},{"t":23.35,"s":2,"v":-0.164},{"t":23.6,"s":2,"v":-0.13},{"t":23.8,"s":2,"v":-0.084},{"t":24.15,"s":2,"v":-0.084},{"t":24.6,"s":2,"v":-0.096},{"t":24.9,"s":2,"v":-0.107},{"t":25.3,"s":2,"v":-0.187},{"t":25.6,"s":2,"v":-0.13},{"t":26.05,"s":2,"v":-0.073},{"t":26.4,"s":2,"v":0.007},{"t":26.6,"s":2,"v":0.064},{"t":27,"s":2,"v":0.082},{"t":27.3,"s":2,"v":0.082},{"t":27.65,"s":2,"v":0.046},{"t":27.9,"s":2,"v":-0.05},{"t":28.1,"s":2,"v":-0.21},{"t":28.2,"s":2,"v":-0.324},{"t":28.4,"s":2,"v":-0.21},{"t":28.55,"s":2,"v":-0.084},{"t":28.9,"s":2,"v":-0.073},{"t":29.35,"s":2,"v":-0.062},{"t":29.8,"s":2,"v":-0.027},{"t":30.15,"s":2,"v":0.03},{"t":30.5,"s":2,"v":0.059},{"t":30.7,"s":2,"v":0.041},{"t":31,"s":2,"v":-0.027},{"t":31.1,"s":2,"v":-0.073},{"t":31.4,"s":2,"v":-0.062},{"t":31.7,"s":2,"v":-0.073},{"t":32.05,"s":2,"v":-0.107},{"t":32.4,"s":2,"v":-0.084},{"t":32.55,"s":2,"v":-0.164},{"t":32.85,"s":2,"v":-0.084},{"t":33.4,"s":2,"v":-0.062},{"t":34,"s":2,"v":-0.055},{"t":34.45,"s":2,"v":-0.096},{"t":34.9,"s":2,"v":-0.062},{"t":35,"s":2,"v":-0.119},{"t":35.35,"s":2,"v":-0.084},{"t":35.65,"s":2,"v":-0.176},{"t":35.9,"s":2,"v":-0.096},{"t":36.3,"s":2,"v":-0.05},{"t":36.7,"s":2,"v":-0.005},{"t":37.2,"s":2,"v":-0.016},{"t":37.5,"s":2,"v":0.018},{"t":37.85,"s":2,"v":0.03},{"t":38.3,"s":2,"v":0.007},{"t":38.75,"s":2,"v":-0.016},{"t":39.2,"s":2,"v":0.03},{"t":39.55,"s":2,"v":0.075},{"t":39.9,"s":2,"v":0.087},{"t":40.1,"s":2,"v":0.041},{"t":40.35,"s":2,"v":0.064},{"t":40.55,"s":2,"v":-0.005},{"t":40.8,"s":2,"v":-0.05},{"t":41.1,"s":2,"v":-0.062},{"t":41.35,"s":2,"v":-0.107},{"t":41.6,"s":2,"v":-0.073},{"t":41.8,"s":2,"v":-0.114},{"t":42.15,"s":2,"v":-0.05},{"t":42.5,"s":2,"v":-0.005},{"t":42.8,"s":2,"v":0.018},{"t":43.3,"s":2,"v":0.03},{"t":43.7,"s":2,"v":-0.005},{"t":44.2,"s":2,"v":-0.039},{"t":44.5,"s":2,"v":-0.062},{"t":44.75,"s":2,"v":-0.027},{"t":45.1,"s":2,"v":-0.062},{"t":45.4,"s":2,"v":-0.005},{"t":45.8,"s":2,"v":0.041},{"t":46.1,"s":2,"v":0.087},{"t":46.5,"s":2,"v":0.11},{"t":46.8,"s":2,"v":0.105},{"t":47.05,"s":2,"v":0.064},{"t":47.4,"s":2,"v":0.018},{"t":47.7,"s":2,"v":-0.027},{"t":48.1,"s":2,"v":-0.062},{"t":48.4,"s":2,"v":-0.073},{"t":48.7,"s":2,"v":-0.107},{"t":48.9,"s":2,"v":-0.073},{"t":49.3,"s":2,"v":-0.096},{"t":49.6,"s":2,"v":-0.073},{"t":50,"s":2,"v":-0.119},{"t":50.3,"s":2,"v":-0.073},{"t":50.75,"s":2,"v":-0.05},{"t":51.2,"s":2,"v":-0.073},{"t":51.65,"s":2,"v":-0.05},{"t":52.1,"s":2,"v":0.018},{"t":52.45,"s":2,"v":0.053},{"t":52.8,"s":2,"v":0.082},{"t":53.1,"s":2,"v":0.075},{"t":53.35,"s":2,"v":0.041},{"t":53.6,"s":2,"v":-0.016},{"t":53.9,"s":2,"v":-0.05},{"t":54.15,"s":2,"v":-0.096},{"t":54.5,"s":2,"v":-0.073},{"t":54.7,"s":2,"v":-0.096},{"t":55,"s":2,"v":-0.055},
{"t":18,"s":3,"v":-0.792},{"t":18.25,"s":3,"v":-0.758},{"t":18.7,"s":3,"v":-0.689},{"t":19.15,"s":3,"v":-0.598},{"t":19.6,"s":3,"v":-0.484},{"t":19.95,"s":3,"v":-0.404},{"t":20.3,"s":3,"v":-0.358},{"t":20.75,"s":3,"v":-0.29},{"t":21.2,"s":3,"v":-0.233},{"t":21.55,"s":3,"v":-0.187},{"t":21.7,"s":3,"v":-0.267},{"t":21.85,"s":3,"v":-0.164},{"t":22.1,"s":3,"v":-0.107},{"t":22.45,"s":3,"v":-0.05},{"t":22.8,"s":3,"v":-0.023},{"t":23,"s":3,"v":-0.027},{"t":23.25,"s":3,"v":-0.039},{"t":23.9,"s":3,"v":-0.062},{"t":24.6,"s":3,"v":-0.084},{"t":25.15,"s":3,"v":-0.1},{"t":25.4,"s":3,"v":-0.142},{"t":25.55,"s":3,"v":-0.096},{"t":25.95,"s":3,"v":-0.073},{"t":26.3,"s":3,"v":-0.062},{"t":26.4,"s":3,"v":-0.114},{"t":26.6,"s":3,"v":-0.073},{"t":27.1,"s":3,"v":-0.084},{"t":27.65,"s":3,"v":-0.062},{"t":28,"s":3,"v":-0.073},{"t":28.2,"s":3,"v":-0.301},{"t":28.45,"s":3,"v":-0.564},{"t":28.6,"s":3,"v":-0.187},{"t":28.8,"s":3,"v":0.064},{"t":29.1,"s":3,"v":0.098},{"t":29.45,"s":3,"v":0.098},{"t":29.8,"s":3,"v":0.064},{"t":30.15,"s":3,"v":0.018},{"t":30.3,"s":3,"v":-0.05},{"t":30.5,"s":3,"v":-0.119},{"t":30.65,"s":3,"v":-0.062},{"t":31.15,"s":3,"v":-0.073},{"t":31.5,"s":3,"v":-0.05},{"t":31.7,"s":3,"v":-0.142},{"t":31.95,"s":3,"v":-0.05},{"t":32.5,"s":3,"v":-0.016},{"t":33,"s":3,"v":-0.039},{"t":33.4,"s":3,"v":-0.062},{"t":33.9,"s":3,"v":-0.084},{"t":34.3,"s":3,"v":-0.096},{"t":34.8,"s":3,"v":-0.073},{"t":35.1,"s":3,"v":-0.027},{"t":35.45,"s":3,"v":-0.096},{"t":35.7,"s":3,"v":0.053},{"t":36,"s":3,"v":0.064},{"t":36.3,"s":3,"v":0.05},{"t":36.7,"s":3,"v":0.007},{"t":37.2,"s":3,"v":-0.05},{"t":37.5,"s":3,"v":-0.073},{"t":37.7,"s":3,"v":-0.142},{"t":38,"s":3,"v":-0.05},{"t":38.3,"s":3,"v":-0.062},{"t":38.75,"s":3,"v":-0.055},{"t":39.2,"s":3,"v":-0.062},{"t":39.7,"s":3,"v":-0.05},{"t":40.1,"s":3,"v":-0.073},{"t":40.7,"s":3,"v":-0.062},{"t":41.1,"s":3,"v":-0.039},{"t":41.6,"s":3,"v":0.064},{"t":41.8,"s":3,"v":-0.096},{"t":42.05,"s":3,"v":0.041},{"t":42.4,"s":3,"v":0.064},{"t":42.7,"s":3,"v":0.068},{"t":43.05,"s":3,"v":0.041},{"t":43.5,"s":3,"v":-0.016},{"t":44,"s":3,"v":-0.062},{"t":44.4,"s":3,"v":-0.084},{"t":44.75,"s":3,"v":-0.027},{"t":44.95,"s":3,"v":-0.039},{"t":45.3,"s":3,"v":0.018},{"t":45.65,"s":3,"v":0.041},{"t":46,"s":3,"v":0.03},{"t":46.45,"s":3,"v":-0.016},{"t":46.8,"s":3,"v":-0.142},{"t":47.15,"s":3,"v":-0.062},{"t":47.6,"s":3,"v":-0.016},{"t":48,"s":3,"v":0.03},{"t":48.5,"s":3,"v":0.075},{"t":48.8,"s":3,"v":0.087},{"t":49.3,"s":3,"v":0.053},{"t":49.6,"s":3,"v":-0.005},{"t":50,"s":3,"v":-0.062},{"t":50.1,"s":3,"v":-0.142},{"t":50.3,"s":3,"v":-0.039},{"t":50.75,"s":3,"v":-0.027},{"t":51.2,"s":3,"v":-0.016},{"t":51.65,"s":3,"v":-0.009},{"t":52,"s":3,"v":0.053},{"t":52.15,"s":3,"v":-0.062},{"t":52.6,"s":3,"v":-0.039},{"t":53,"s":3,"v":-0.027},{"t":53.35,"s":3,"v":-0.016},{"t":53.6,"s":3,"v":0.03},{"t":53.9,"s":3,"v":-0.027},{"t":54.3,"s":3,"v":0.053},{"t":54.4,"s":3,"v":0.087},{"t":54.6,"s":3,"v":0.053},{"t":54.8,"s":3,"v":0.075},{"t":55,"s":3,"v":0.064}
]
},
"vconcat": [
{
  "title": "The lateral displacement error ỹᵢ(t)",
  "width": 545, "height": 163,
  "data": {"name": "p1"},
  "mark": {"type": "line", "clip": true, "interpolate": "monotone"},
  "encoding": {
    "x": {"field": "t", "type": "quantitative", "scale": {"domain": [18, 55], "nice": false, "zero": false}, "axis": {"values": [20,25,30,35,40,45,50,55], "title": "t [s]"}},
    "y": {"field": "v", "type": "quantitative", "scale": {"domain": [-0.6, 0.2], "nice": false, "zero": false}, "axis": {"values": [-0.6,-0.4,-0.2,0,0.2], "title": "ỹᵢ(t) [m]", "labelExpr": "replace(format(datum.value, '~g'), '−', '-')"}},
    "color": {"field": "s", "type": "nominal", "scale": {"domain": [1,2,3], "range": ["#D95319","#0072BD","#EDB120"]}, "legend": {"title": null, "orient": "none", "legendX": 382, "legendY": 82, "symbolType": "M0,0H50", "symbolSize": 4, "labelExpr": "datum.value == 1 ? 'SVEA1: ỹ₁(t)' : datum.value == 2 ? 'SVEA2: ỹ₂(t)' : 'SVEA3: ỹ₃(t)'"}}
  }
},
{
  "title": "The angular orientation error θ̃ᵢ(t)",
  "width": 545, "height": 163,
  "data": {"name": "p2"},
  "mark": {"type": "line", "clip": true, "interpolate": "monotone"},
  "encoding": {
    "x": {"field": "t", "type": "quantitative", "scale": {"domain": [18, 55], "nice": false, "zero": false}, "axis": {"values": [20,25,30,35,40,45,50,55], "title": "t [s]"}},
    "y": {"field": "v", "type": "quantitative", "scale": {"domain": [-0.1, 0.67], "nice": false, "zero": false}, "axis": {"values": [0,0.2,0.4,0.6], "title": "θ̃ᵢ(t) [m]", "labelExpr": "replace(format(datum.value, '~g'), '−', '-')"}},
    "color": {"field": "s", "type": "nominal", "scale": {"domain": [1,2,3], "range": ["#D95319","#0072BD","#EDB120"]}, "legend": {"title": null, "orient": "none", "legendX": 385, "legendY": 11, "symbolType": "M0,0H50", "symbolSize": 4, "labelExpr": "datum.value == 1 ? 'SVEA1: θ̃₁(t)' : datum.value == 2 ? 'SVEA2: θ̃₂(t)' : 'SVEA3: θ̃₃(t)'"}}
  }
},
{
  "title": "The velocity error ṽᵢ(t)",
  "width": 545, "height": 163,
  "data": {"name": "p3"},
  "mark": {"type": "line", "clip": true},
  "encoding": {
    "x": {"field": "t", "type": "quantitative", "scale": {"domain": [18, 55], "nice": false, "zero": false}, "axis": {"values": [20,25,30,35,40,45,50,55], "title": "t [s]"}},
    "y": {"field": "v", "type": "quantitative", "scale": {"domain": [-0.5, 0.5], "nice": false, "zero": false}, "axis": {"values": [-0.5,0,0.5], "title": "ṽᵢ(t) [m]", "labelExpr": "replace(format(datum.value, '~g'), '−', '-')"}},
    "color": {"field": "s", "type": "nominal", "scale": {"domain": [1,2,3], "range": ["#D95319","#0072BD","#EDB120"]}, "legend": {"title": null, "orient": "none", "legendX": 385, "legendY": 11, "symbolType": "M0,0H50", "symbolSize": 4, "labelExpr": "datum.value == 1 ? 'SVEA1: ṽ₁(t)' : datum.value == 2 ? 'SVEA2: ṽ₂(t)' : 'SVEA3: ṽ₃(t)'"}}
  }
},
{
  "title": "The longitudinal displacement error ẽᵢ(t)",
  "width": 545, "height": 163,
  "data": {"name": "p4"},
  "mark": {"type": "line", "clip": true},
  "encoding": {
    "x": {"field": "t", "type": "quantitative", "scale": {"domain": [18, 55], "nice": false, "zero": false}, "axis": {"values": [20,25,30,35,40,45,50,55], "title": "t [s]"}},
    "y": {"field": "v", "type": "quantitative", "scale": {"domain": [-1, 0.11], "nice": false, "zero": false}, "axis": {"values": [-1,-0.5,0], "title": "ẽᵢ(t) [m]", "labelExpr": "replace(format(datum.value, '~g'), '−', '-')"}},
    "color": {"field": "s", "type": "nominal", "scale": {"domain": [1,2,3], "range": ["#D95319","#0072BD","#EDB120"]}, "legend": {"title": null, "orient": "none", "legendX": 381, "legendY": 80, "symbolType": "M0,0H50", "symbolSize": 4, "labelExpr": "datum.value == 1 ? 'SVEA1: ẽ₁(t)' : datum.value == 2 ? 'SVEA2: ẽ₂(t)' : 'SVEA3: ẽ₃(t)'"}}
  }
}
],
"resolve": {"scale": {"y": "independent"}, "legend": {"color": "independent"}}
}
